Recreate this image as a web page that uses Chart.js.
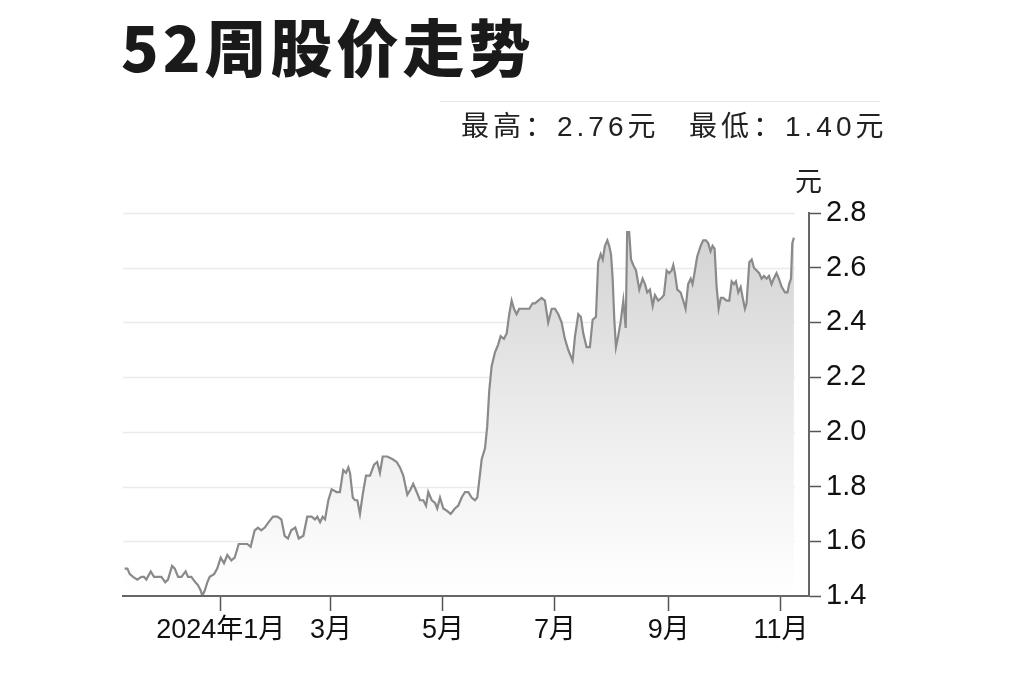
<!DOCTYPE html>
<html>
<head>
<meta charset="utf-8">
<script src="https://cdn.jsdelivr.net/npm/chart.js@4.4.0/dist/chart.umd.min.js"></script>
<style>
  html, body { margin: 0; padding: 0; background: #fff; }
  #wrap { position: relative; width: 1024px; height: 682px; overflow: hidden; }
  #chart { position: absolute; left: 0; top: 0; }
  .title {
    position: absolute; left: 121px; top: 14px;
    font-family: 'Noto Sans CJK SC', sans-serif; font-weight: 900;
    font-size: 62px; line-height: 1; letter-spacing: 4px; color: #1a1a1a;
    white-space: nowrap;
  }
  .rule { position: absolute; left: 440px; top: 101px; width: 440px; height: 1px; background: #e6e6e6; }
  .stat {
    position: absolute; top: 113px;
    font-family: 'Liberation Sans', 'Noto Sans CJK SC', sans-serif; font-size: 28px; line-height: 1;
    letter-spacing: 4px; color: #222; white-space: nowrap;
  }
  .unit {
    position: absolute; left: 795px; top: 166px;
    font-family: 'Noto Sans CJK SC', sans-serif; font-size: 27px; line-height: 1; color: #222;
  }
</style>
</head>
<body>
<div id="wrap">
  <canvas id="chart" width="1024" height="682"></canvas>
  <div class="title">52周股价走势</div>
  <div class="rule"></div>
  <div class="stat" style="left:461px">最高：2.76元</div>
  <div class="stat" style="left:689px">最低：1.40元</div>
  <div class="unit">元</div>
</div>
<script>
// days counted from 2024-01-01
const days = [
  -52.3, -50.8, -49.5, -47.7, -45.4, -43.2, -41.8, -40.5, -38.1, -36.3,
  -34.1, -32.3, -30.2, -28.7, -26.5, -25.0, -23.2, -21.4, -19.1, -17.8,
  -16.0, -13.8, -12.4, -10.9, -10.0, -8.7, -7.3, -6.0, -3.6, -1.9,
  0, 1.8, 3.6, 5.8, 7.6, 9.8, 12.1, 14.5, 16.3, 18.5,
  20.3, 22.1, 24.0, 26.1, 28.5, 30.8, 33.0, 34.8, 36.6, 38.4,
  40.6, 42.5, 45.0, 47.1, 49.5, 51.3, 52.6, 54.1, 55.5, 56.8,
  58.6, 60.4, 63.1, 64.9, 66.7, 68.2, 69.5, 70.4, 71.9, 73.1,
  74.4, 75.8, 77.3, 79.1, 81.3, 83.5, 85.2, 86.7, 88.2, 90.7,
  93.6, 95.8, 97.6, 99.4, 101.6, 103.4, 104.8, 106.7, 108.5, 110.3,
  111.8, 113.0, 114.9, 116.7, 117.9, 119.4, 121.2, 123.4, 125.2, 127.5,
  129.3, 131.2, 133.0, 134.8, 136.6, 138.4, 139.7, 142.1, 143.9, 145.1,
  146.2, 147.5, 149.3, 151.1, 152.4, 154.2, 155.7, 157.1, 158.4, 159.7,
  161.1, 162.5, 164.4, 166.2, 168.0, 169.8, 171.1, 172.9, 174.7, 176.5,
  178.3, 180.2, 182.0, 183.8, 185.6, 187.4, 189.2, 191.6, 192.9, 194.7,
  196.1, 197.4, 199.2, 201.0, 202.5, 204.3, 205.5, 206.9, 208.0, 209.2,
  210.5, 211.5, 212.5, 213.4, 214.3, 215.2, 216.4, 217.7, 219.2, 220.5,
  221.3, 222.4, 223.4, 224.6, 226.1, 227.9, 229.7, 231.0, 232.2, 233.7,
  235.2, 236.4, 238.2, 240.1, 241.3, 242.8, 244.2, 245.5, 246.4, 247.3,
  248.6, 250.4, 251.8, 253.1, 254.5, 255.9, 256.9, 258.2, 259.4, 261.3,
  262.7, 264.2, 265.4, 266.7, 267.8, 268.9, 270.0, 271.1, 272.3, 273.6,
  275.4, 276.9, 278.2, 279.4, 280.5, 281.8, 283.1, 284.2, 285.4, 286.3,
  287.8, 289.1, 290.3, 291.8, 293.2, 294.5, 295.8, 297.2, 298.5, 299.9,
  301.1, 302.6, 303.9, 305.4, 307.2, 308.6, 309.5, 310.5, 311.2, 312.1
];
const prices = [
  1.50, 1.50, 1.48, 1.47, 1.46, 1.47, 1.47, 1.46, 1.49, 1.47,
  1.47, 1.47, 1.45, 1.46, 1.51, 1.50, 1.47, 1.47, 1.49, 1.47,
  1.47, 1.45, 1.44, 1.42, 1.40, 1.42, 1.45, 1.47, 1.48, 1.50,
  1.54, 1.52, 1.55, 1.53, 1.54, 1.59, 1.59, 1.59, 1.58, 1.64,
  1.65, 1.64, 1.65, 1.67, 1.69, 1.69, 1.68, 1.62, 1.61, 1.64,
  1.65, 1.61, 1.62, 1.69, 1.69, 1.68, 1.69, 1.67, 1.69, 1.68,
  1.75, 1.79, 1.78, 1.78, 1.86, 1.85, 1.87, 1.85, 1.76, 1.75,
  1.75, 1.70, 1.77, 1.84, 1.84, 1.88, 1.89, 1.85, 1.91, 1.91,
  1.90, 1.89, 1.87, 1.84, 1.77, 1.79, 1.81, 1.78, 1.75, 1.75,
  1.73, 1.78, 1.75, 1.74, 1.72, 1.76, 1.72, 1.71, 1.70, 1.72,
  1.73, 1.76, 1.78, 1.78, 1.76, 1.75, 1.76, 1.90, 1.94, 2.02,
  2.15, 2.24, 2.29, 2.32, 2.35, 2.34, 2.36, 2.43, 2.48, 2.45,
  2.43, 2.45, 2.45, 2.45, 2.45, 2.47, 2.47, 2.48, 2.49, 2.48,
  2.40, 2.45, 2.45, 2.43, 2.40, 2.34, 2.30, 2.26, 2.35, 2.43,
  2.42, 2.36, 2.31, 2.31, 2.41, 2.42, 2.62, 2.65, 2.63, 2.68,
  2.70, 2.68, 2.65, 2.56, 2.41, 2.31, 2.35, 2.40, 2.48, 2.38,
  2.73, 2.73, 2.63, 2.61, 2.59, 2.52, 2.56, 2.54, 2.51, 2.52,
  2.46, 2.50, 2.48, 2.49, 2.50, 2.59, 2.58, 2.59, 2.61, 2.58,
  2.52, 2.51, 2.48, 2.45, 2.54, 2.56, 2.54, 2.59, 2.64, 2.68,
  2.70, 2.70, 2.69, 2.66, 2.68, 2.67, 2.53, 2.45, 2.49, 2.49,
  2.48, 2.48, 2.55, 2.54, 2.55, 2.51, 2.53, 2.49, 2.45, 2.47,
  2.62, 2.63, 2.60, 2.59, 2.58, 2.56, 2.57, 2.56, 2.57, 2.54,
  2.56, 2.58, 2.56, 2.53, 2.51, 2.51, 2.54, 2.56, 2.69, 2.71
];
const tickDays = [0, 60, 121, 182, 244, 305];
const tickLabels = ['2024年1月', '3月', '5月', '7月', '9月', '11月'];
const yMin = 1.4, yMax = 2.8, yStep = 0.2;
const xMin = -53.2, xMax = 320.3;

// light grid lines that stop where the price line ends
const shortGrid = {
  id: 'shortGrid',
  beforeDatasetsDraw(chart) {
    const { ctx, chartArea, scales } = chart;
    const right = scales.x.getPixelForValue(days[days.length - 1]) + 1;
    ctx.save();
    ctx.strokeStyle = '#ebebeb';
    ctx.lineWidth = 1.5;
    scales.y.ticks.forEach(t => {
      if (t.value <= yMin) return;
      const y = Math.round(scales.y.getPixelForValue(t.value)) + 0.5;
      ctx.beginPath();
      ctx.moveTo(chartArea.left, y);
      ctx.lineTo(right, y);
      ctx.stroke();
    });
    ctx.restore();
  }
};

const ctx = document.getElementById('chart').getContext('2d');
new Chart(ctx, {
  type: 'line',
  data: {
    datasets: [{
      data: days.map((d, i) => ({ x: d, y: prices[i] })),
      borderColor: '#8a8a8a',
      borderWidth: 2.2,
      pointRadius: 0,
      tension: 0,
      fill: 'start',
      backgroundColor: (c) => {
        const area = c.chart.chartArea;
        if (!area) return 'rgba(0,0,0,0)';
        const g = c.chart.ctx.createLinearGradient(0, area.top, 0, area.bottom);
        g.addColorStop(0, '#d0d0d0');
        g.addColorStop(0.55, '#ededed');
        g.addColorStop(1, '#ffffff');
        return g;
      }
    }]
  },
  options: {
    responsive: false,
    animation: false,
    layout: { padding: { left: 123, top: 213, right: 0, bottom: 0 } },
    plugins: { legend: { display: false }, tooltip: { enabled: false } },
    scales: {
      x: {
        type: 'linear',
        min: xMin,
        max: xMax,
        afterBuildTicks: (s) => { s.ticks = tickDays.map(v => ({ value: v })); },
        afterFit: (s) => { s.height = 86; },
        grid: { z: 1, drawOnChartArea: false, drawTicks: true, tickLength: 15, tickColor: '#555', tickWidth: 1.5 },
        border: { z: 1, color: '#666', width: 2 },
        ticks: {
          autoSkip: false,
          maxRotation: 0,
          padding: 3,
          color: '#111',
          font: { family: "'Liberation Sans Narrow', 'Liberation Sans', 'Noto Sans CJK SC', sans-serif", size: 27 },
          callback: (v, i) => tickLabels[i]
        }
      },
      y: {
        position: 'right',
        min: yMin,
        max: yMax,
        afterFit: (s) => { s.width = 1024 - 809; },
        grid: { z: 1, drawOnChartArea: false, drawTicks: true, tickLength: 12, tickColor: '#555', tickWidth: 1.5 },
        border: { z: 1, color: '#666', width: 2 },
        ticks: {
          stepSize: yStep,
          padding: 5,
          color: '#111',
          font: { family: "'Liberation Sans', Arial, sans-serif", size: 29 },
          callback: (v) => v.toFixed(1)
        }
      }
    }
  },
  plugins: [shortGrid]
});
</script>
</body>
</html>
